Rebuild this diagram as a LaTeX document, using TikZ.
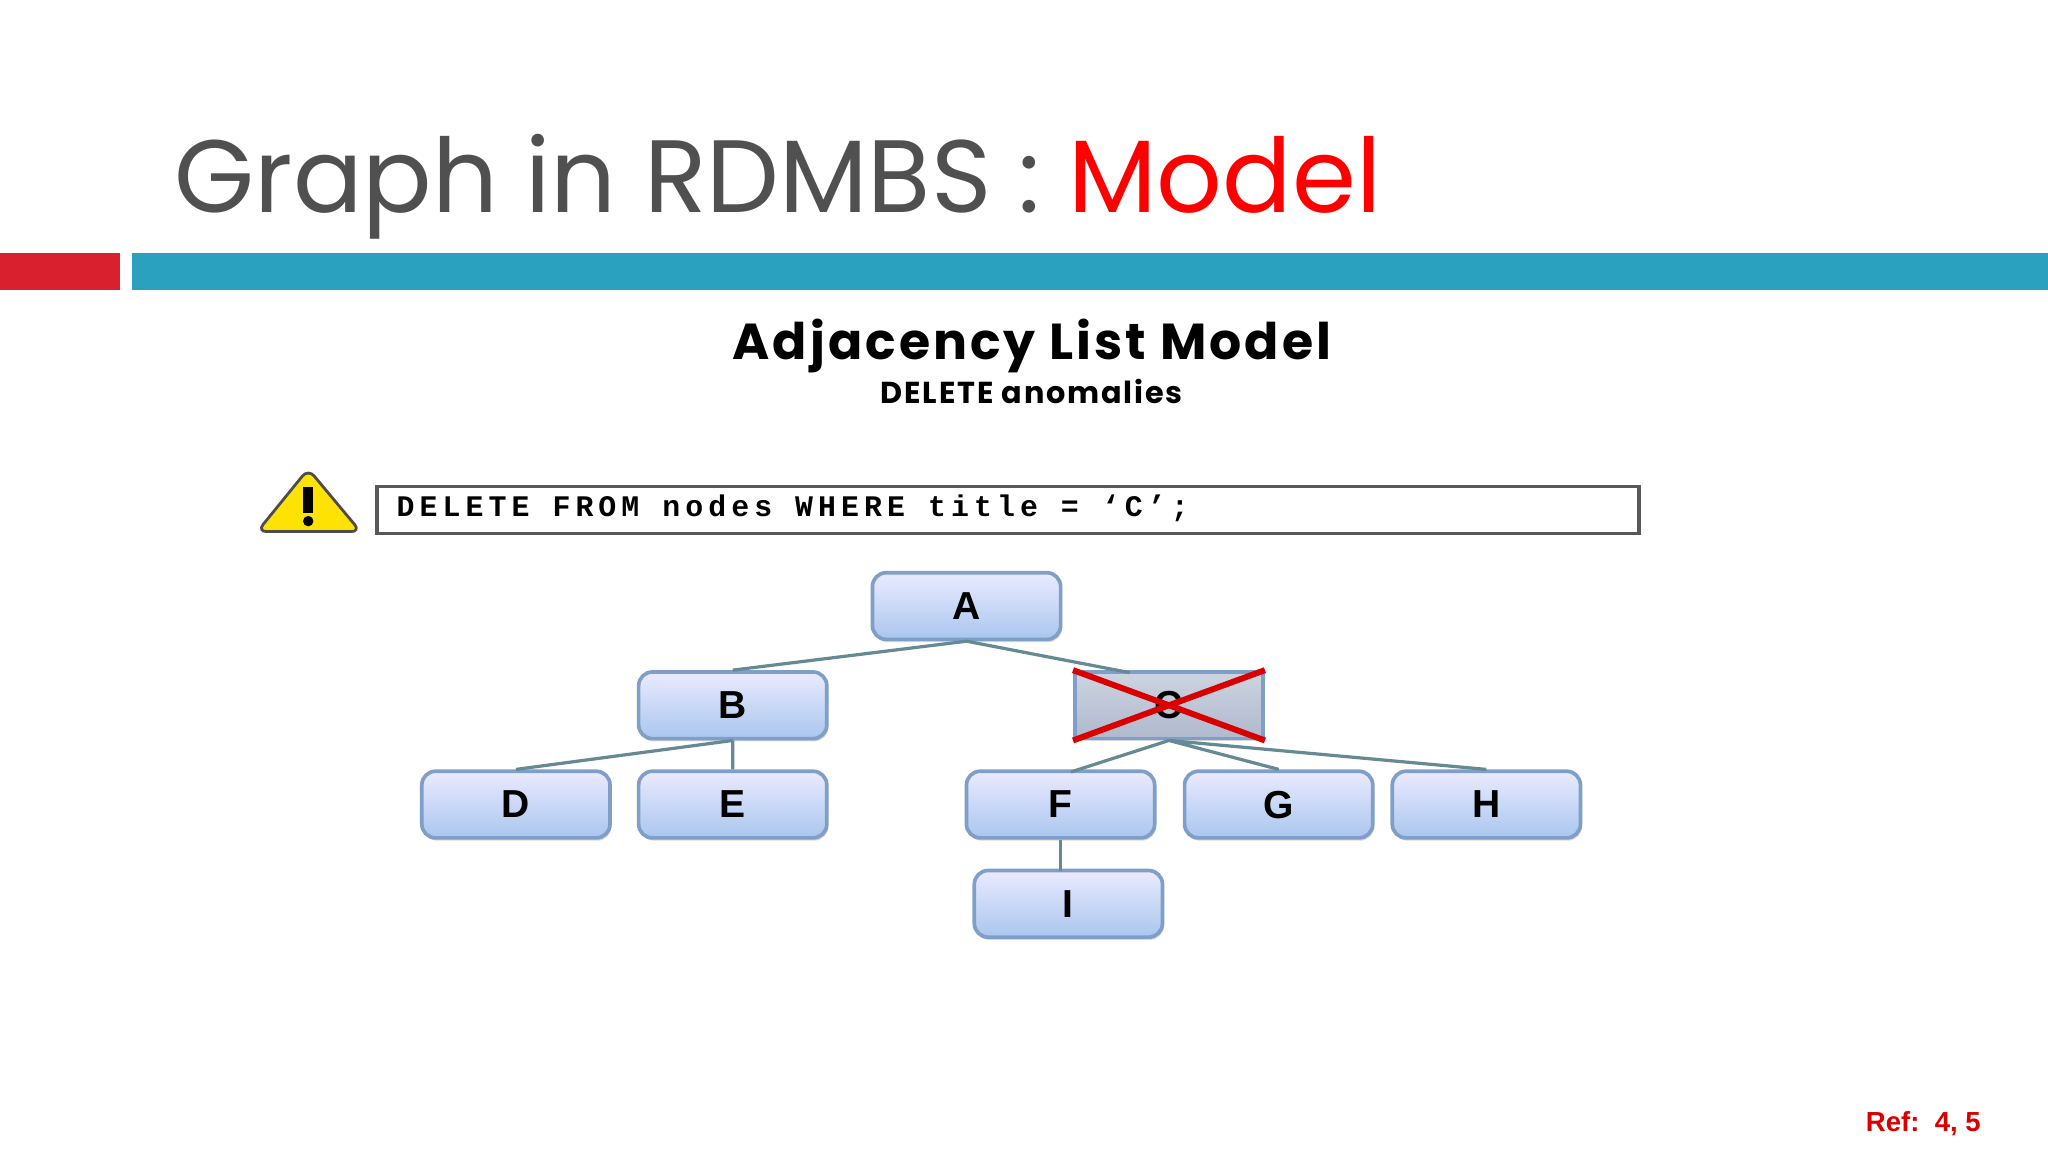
\documentclass[tikz,border=0pt]{standalone}
\usepackage{fontspec}
\setmainfont{Poppins}
\newfontfamily\hfont{Liberation Sans}
\setmonofont{Liberation Mono}
\usetikzlibrary{shadows}
\definecolor{titlegray}{HTML}{505050}
\definecolor{teal}{HTML}{2BA1C0}
\definecolor{barred}{HTML}{D9202E}
\definecolor{nborder}{HTML}{7F9FC8}
\tikzset{
 tnode/.style={draw=nborder,line width=0.8pt,rounded corners=3pt,minimum width=1.44cm,minimum height=0.51cm,
   top color=blue!8!white,bottom color={rgb,255:red,169;green,198;blue,238},font=\hfont\bfseries\fontsize{8.5}{9}\selectfont,
   drop shadow={shadow xshift=0.3pt,shadow yshift=-0.6pt,opacity=0.3}},
 cnode/.style={tnode,top color={rgb,255:red,205;green,212;blue,225},bottom color={rgb,255:red,175;green,185;blue,205},rounded corners=0pt},
 edge/.style={draw=gray!70!teal,line width=0.7pt}
}
\begin{document}
\begin{tikzpicture}[x=0.01cm,y=-0.01cm]
\useasboundingbox (0,0) rectangle (1568,882);
\fill[white] (0,0) rectangle (1568,882);
\node[anchor=base west,inner sep=0,font=\fontsize{22.4}{24}\selectfont,text=titlegray] (title) at (133,163) {Graph in RDMBS : \textcolor{red}{Model}};
\fill[barred] (0,194) rectangle (92,222);
\fill[teal] (101,194) rectangle (1568,222);
\node[font=\bfseries\fontsize{11}{12}\selectfont\addfontfeature{LetterSpace=6}] (h1) at (790,265) {Adjacency List Model};
\node[font=\bfseries\fontsize{6.6}{8}\selectfont\addfontfeature{LetterSpace=6}] (h2) at (790,300) {DELETE anomalies};
% warning
\fill[yellow!85!orange,draw=gray!60!black,line width=0.6pt,rounded corners=2pt] (197,407) -- (236,359) -- (276,407) -- cycle;
\fill[black] (232,373) rectangle (240,393);
\fill[black] (236,399) circle (4);
\node[draw=gray!70!black,line width=0.8pt,minimum width=9.66cm,minimum height=0.36cm,anchor=north west,inner sep=0] (q) at (287,371) {};
\node[anchor=west,inner sep=0,font=\ttfamily\bfseries\fontsize{6.5}{7}\selectfont\addfontfeature{LetterSpace=17}] (qt) at (303,389) {DELETE FROM nodes WHERE title = ‘C’;};
% nodes
\node[tnode] (A) at (740,464) {A};
\node[tnode] (B) at (561,540) {B};
\node[cnode] (C) at (895,540) {C};
\node[tnode] (D) at (395,616) {D};
\node[tnode] (E) at (561,616) {E};
\node[tnode] (F) at (812,616) {F};
\node[tnode] (G) at (979,616) {G};
\node[tnode] (H) at (1138,616) {H};
\node[tnode] (I) at (818,692) {I};
\draw[red!85!black,line width=1.3pt] (C.north west) -- (C.south east) (C.south west) -- (C.north east);
\draw[edge] (A.south) -- (B.north) (A.south) -- (865,515);
\draw[edge] (B.south) -- (D.north) (B.south) -- (E.north);
\draw[edge] (C.south) -- (820,591) (C.south) -- (G.north) (C.south) -- (H.north);
\draw[edge] (F.south) -- (812,667);
\node[anchor=base east,text=red!85!black,font=\hfont\bfseries\fontsize{6}{7}\selectfont] (ref) at (1529,866) {Ref:\ \ 4, 5};
\end{tikzpicture}
\end{document}
